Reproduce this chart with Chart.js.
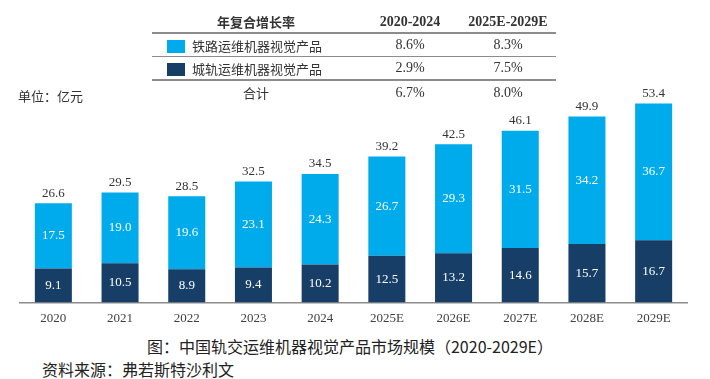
<!DOCTYPE html>
<html>
<head>
<meta charset="utf-8">
<script src="https://cdn.jsdelivr.net/npm/chart.js@4.4.1/dist/chart.umd.min.js"></script>
<style>
  body { margin: 0; width: 710px; height: 379px; background: #fff; position: relative; overflow: hidden; font-family: "Noto Sans CJK SC", sans-serif; }
  #wrap { position: absolute; left: 0; top: 0; width: 710px; height: 330px; }
  #cagr { position: absolute; left: 152px; top: 11px; width: 404px; border-collapse: collapse; font-size: 13px; color: #333; }
  #cagr td, #cagr th { padding: 0; text-align: center; }
  #cagr th { height: 21px; font-weight: bold; font-family: "Noto Sans CJK SC", sans-serif; }
  #cagr th.num { font-family: "Liberation Serif", serif; font-size: 14px; }
  #cagr tr.head th { border-bottom: 2px solid #8c8c8c; }
  #cagr tr.r1 td { height: 22px; border-bottom: 1px solid #8c8c8c; }
  #cagr tr.r2 td { height: 22px; border-bottom: 2px solid #8c8c8c; }
  #cagr tr.r3 td { height: 23px; }
  #cagr td.num { font-family: "Liberation Serif", serif; font-size: 14px; }
  #cagr td.lab { text-align: left; padding-left: 15px; }
  .box { display: inline-block; width: 18px; height: 13px; vertical-align: -2px; margin-right: 7px; }
  #unit { position: absolute; left: 18px; top: 86px; font-size: 13px; color: #333; }
  #cap { position: absolute; left: 0; width: 700px; top: 334px; text-align: center; font-size: 16px; color: #222; }
  #src { position: absolute; left: 42px; top: 357px; font-size: 16px; color: #222; }
</style>
</head>
<body>
<div id="wrap"><canvas id="marketChart"></canvas></div>
<table id="cagr">
  <tr class="head"><th style="width:208px">年复合增长率</th><th class="num" id="p0" style="width:100px"></th><th class="num" id="p1"></th></tr>
  <tr class="r1"><td class="lab" id="l0"></td><td class="num" id="a0"></td><td class="num" id="a1"></td></tr>
  <tr class="r2"><td class="lab" id="l1"></td><td class="num" id="b0"></td><td class="num" id="b1"></td></tr>
  <tr class="r3"><td>合计</td><td class="num" id="c0"></td><td class="num" id="c1"></td></tr>
</table>
<div id="unit">单位：亿元</div>
<div id="cap">图：中国轨交运维机器视觉产品市场规模（2020-2029E）</div>
<div id="src">资料来源：弗若斯特沙利文</div>
<script>
const years = ['2020', '2021', '2022', '2023', '2024', '2025E', '2026E', '2027E', '2028E', '2029E'];
const urbanValues = [9.1, 10.5, 8.9, 9.4, 10.2, 12.5, 13.2, 14.6, 15.7, 16.7];
const railValues = [17.5, 19.0, 19.6, 23.1, 24.3, 26.7, 29.3, 31.5, 34.2, 36.7];
const totalValues = [26.6, 29.5, 28.5, 32.5, 34.5, 39.2, 42.5, 46.1, 49.9, 53.4];

const periods = ['2020-2024', '2025E-2029E'];
const railCagr = ['8.6%', '8.3%'];
const urbanCagr = ['2.9%', '7.5%'];
const totalCagr = ['6.7%', '8.0%'];

const railColor = '#00abeb';
const urbanColor = '#173e67';

// table legend
document.getElementById('p0').textContent = periods[0];
document.getElementById('p1').textContent = periods[1];
document.getElementById('l0').innerHTML = '<span class="box" style="background:' + railColor + '"></span>铁路运维机器视觉产品';
document.getElementById('l1').innerHTML = '<span class="box" style="background:' + urbanColor + '"></span>城轨运维机器视觉产品';
document.getElementById('a0').textContent = railCagr[0];
document.getElementById('a1').textContent = railCagr[1];
document.getElementById('b0').textContent = urbanCagr[0];
document.getElementById('b1').textContent = urbanCagr[1];
document.getElementById('c0').textContent = totalCagr[0];
document.getElementById('c1').textContent = totalCagr[1];

// value labels inside bars + totals on top
const barLabels = {
  id: 'barLabels',
  afterDatasetsDraw(chart) {
    const ctx = chart.ctx;
    ctx.save();
    ctx.font = '13px "Liberation Serif", serif';
    ctx.textAlign = 'center';
    ctx.textBaseline = 'middle';
    chart.data.datasets.forEach((ds, i) => {
      chart.getDatasetMeta(i).data.forEach((bar, j) => {
        ctx.fillStyle = '#ffffff';
        ctx.fillText(ds.data[j].toFixed(1), bar.x, (bar.y + bar.base) / 2);
      });
    });
    const top = chart.getDatasetMeta(1).data;
    ctx.fillStyle = '#333333';
    top.forEach((bar, j) => {
      ctx.fillText(totalValues[j].toFixed(1), bar.x, bar.y - 10);
    });
    ctx.restore();
  }
};

const ctx = document.getElementById('marketChart').getContext('2d');
new Chart(ctx, {
  type: 'bar',
  data: {
    labels: years,
    datasets: [{
      label: '城轨运维机器视觉产品',
      data: urbanValues,
      backgroundColor: urbanColor,
      categoryPercentage: 1,
      barPercentage: 0.555
    }, {
      label: '铁路运维机器视觉产品',
      data: railValues,
      backgroundColor: railColor,
      categoryPercentage: 1,
      barPercentage: 0.555
    }]
  },
  options: {
    responsive: true,
    maintainAspectRatio: false,
    animation: false,
    layout: { padding: { top: 79, left: 20, right: 23, bottom: 4 } },
    plugins: {
      legend: { display: false },
      tooltip: { enabled: false }
    },
    scales: {
      x: {
        stacked: true,
        grid: { display: false },
        border: { color: '#8c8c8c', width: 1.5 },
        ticks: { color: '#404040', font: { family: 'Liberation Serif', size: 13 }, maxRotation: 0, padding: 0 }
      },
      y: {
        stacked: true,
        display: false,
        min: 0,
        max: 60
      }
    }
  },
  plugins: [barLabels]
});
</script>
</body>
</html>
